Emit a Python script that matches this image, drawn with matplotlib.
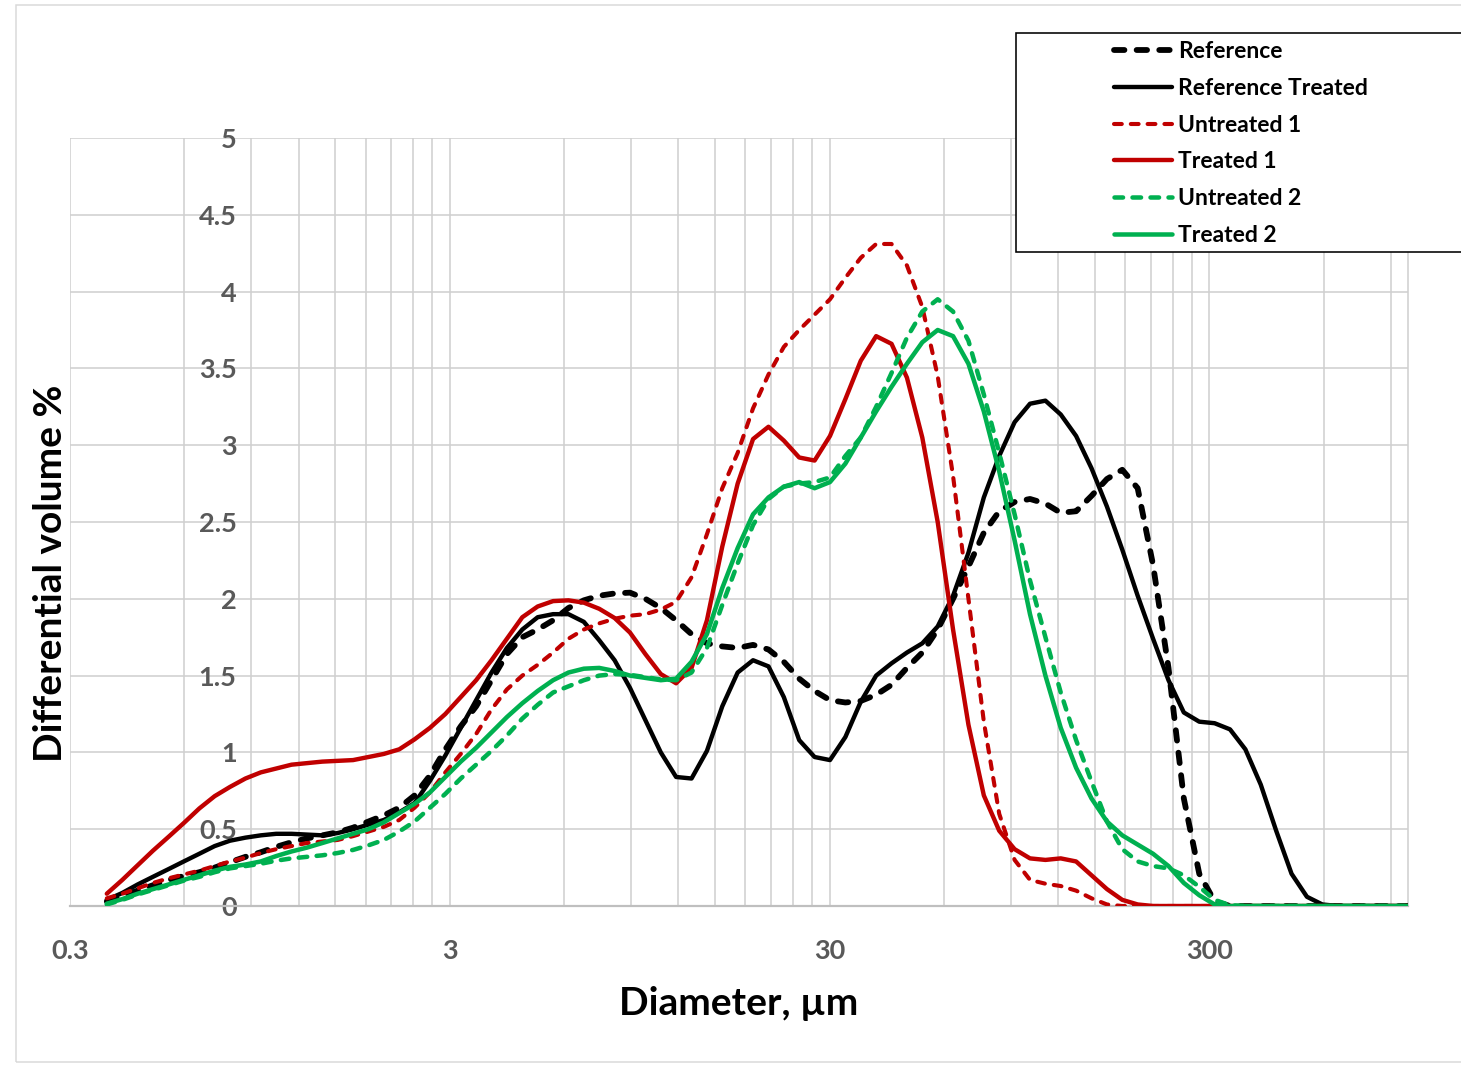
import matplotlib
matplotlib.use("Agg")
import matplotlib.pyplot as plt
from matplotlib.ticker import FixedLocator, NullFormatter
from matplotlib.patches import Rectangle

# ---------------- data ----------------
diameter_um = [0.375, 0.412, 0.452, 0.496, 0.545, 0.598, 0.657, 0.721, 0.791, 0.869,
               0.954, 1.047, 1.149, 1.261, 1.385, 1.520, 1.669, 1.832, 2.011, 2.208,
               2.423, 2.660, 2.920, 3.206, 3.519, 3.863, 4.241, 4.656, 5.111, 5.611,
               6.159, 6.761, 7.422, 8.148, 8.944, 9.819, 10.78, 11.83, 12.99, 14.26,
               15.65, 17.18, 18.86, 20.71, 22.73, 24.95, 27.39, 30.07, 33.01, 36.24,
               39.78, 43.67, 47.94, 52.62, 57.77, 63.41, 69.61, 76.42, 83.89, 92.09,
               101.1, 111.0, 121.8, 133.7, 146.8, 161.2, 176.9, 194.2, 213.2, 234.1,
               256.9, 282.1, 309.6, 339.9, 373.1, 409.6, 449.7, 493.6, 541.9, 594.9,
               653.0, 716.9, 786.9, 863.9, 948.3, 1041.0]

reference = [0.03, 0.065, 0.10, 0.135, 0.17, 0.195, 0.22, 0.25, 0.285, 0.32,
             0.35, 0.385, 0.415, 0.44, 0.46, 0.48, 0.51, 0.55, 0.59, 0.64,
             0.72, 0.85, 1.02, 1.17, 1.30, 1.47, 1.64, 1.75, 1.80, 1.86,
             1.94, 1.99, 2.02, 2.035, 2.04, 2.00, 1.94, 1.86, 1.77, 1.71,
             1.69, 1.68, 1.70, 1.67, 1.59, 1.48, 1.40, 1.34, 1.325, 1.335,
             1.375, 1.44, 1.55, 1.65, 1.80, 2.00, 2.21, 2.43, 2.57, 2.63,
             2.65, 2.62, 2.56, 2.57, 2.67, 2.78, 2.84, 2.72, 2.22, 1.55,
             0.70, 0.21, 0.03, 0, 0, 0, 0, 0, 0, 0,
             0, 0, 0, 0, 0, 0]

reference_treated = [0.04, 0.085, 0.14, 0.19, 0.24, 0.29, 0.34, 0.39, 0.425, 0.445,
                     0.46, 0.47, 0.47, 0.465, 0.46, 0.475, 0.50, 0.53, 0.56, 0.61,
                     0.67, 0.815, 0.98, 1.16, 1.34, 1.52, 1.68, 1.80, 1.88, 1.90,
                     1.90, 1.85, 1.73, 1.60, 1.42, 1.21, 1.00, 0.84, 0.83, 1.01,
                     1.30, 1.52, 1.60, 1.56, 1.36, 1.08, 0.97, 0.95, 1.10, 1.33,
                     1.50, 1.58, 1.65, 1.71, 1.82, 2.02, 2.30, 2.66, 2.93, 3.15,
                     3.27, 3.29, 3.20, 3.06, 2.85, 2.60, 2.32, 2.02, 1.74, 1.47,
                     1.26, 1.20, 1.19, 1.15, 1.02, 0.79, 0.49, 0.21, 0.06, 0.01,
                     0, 0, 0, 0, 0, 0]

untreated_1 = [0.05, 0.08, 0.115, 0.15, 0.18, 0.205, 0.23, 0.26, 0.29, 0.315,
               0.345, 0.37, 0.39, 0.41, 0.42, 0.43, 0.455, 0.485, 0.515, 0.56,
               0.64, 0.74, 0.87, 0.99, 1.12, 1.28, 1.41, 1.50, 1.57, 1.65,
               1.74, 1.80, 1.84, 1.87, 1.89, 1.90, 1.93, 1.98, 2.14, 2.42,
               2.72, 2.95, 3.24, 3.46, 3.64, 3.75, 3.85, 3.95, 4.09, 4.22,
               4.31, 4.31, 4.17, 3.90, 3.45, 2.80, 2.00, 1.20, 0.60, 0.30,
               0.17, 0.145, 0.13, 0.10, 0.05, 0.01, 0, 0, 0, 0,
               0, 0, 0, 0, 0, 0, 0, 0, 0, 0,
               0, 0, 0, 0, 0, 0]

treated_1 = [0.08, 0.17, 0.265, 0.36, 0.45, 0.54, 0.635, 0.715, 0.775, 0.83,
             0.87, 0.895, 0.92, 0.93, 0.94, 0.945, 0.95, 0.97, 0.99, 1.02,
             1.085, 1.16, 1.25, 1.36, 1.47, 1.60, 1.74, 1.88, 1.95, 1.985,
             1.99, 1.975, 1.935, 1.875, 1.78, 1.64, 1.51, 1.45, 1.55, 1.86,
             2.34, 2.75, 3.04, 3.12, 3.03, 2.92, 2.90, 3.06, 3.30, 3.55,
             3.71, 3.66, 3.44, 3.05, 2.50, 1.80, 1.18, 0.72, 0.49, 0.37,
             0.31, 0.30, 0.31, 0.29, 0.20, 0.11, 0.04, 0.01, 0, 0,
             0, 0, 0, 0, 0, 0, 0, 0, 0, 0,
             0, 0, 0, 0, 0, 0]

untreated_2 = [0.01, 0.04, 0.075, 0.105, 0.135, 0.165, 0.19, 0.22, 0.245, 0.26,
               0.275, 0.295, 0.31, 0.32, 0.33, 0.345, 0.365, 0.395, 0.43, 0.485,
               0.55, 0.64, 0.73, 0.83, 0.92, 1.01, 1.11, 1.22, 1.31, 1.39,
               1.43, 1.47, 1.50, 1.51, 1.505, 1.49, 1.475, 1.47, 1.52, 1.68,
               1.96, 2.23, 2.48, 2.65, 2.73, 2.75, 2.76, 2.79, 2.93, 3.05,
               3.25, 3.47, 3.70, 3.87, 3.95, 3.87, 3.68, 3.33, 2.95, 2.55,
               2.12, 1.75, 1.39, 1.08, 0.81, 0.55, 0.37, 0.29, 0.26, 0.245,
               0.20, 0.125, 0.04, 0.005, 0, 0, 0, 0, 0, 0,
               0, 0, 0, 0, 0, 0]

treated_2 = [0.015, 0.045, 0.08, 0.11, 0.14, 0.17, 0.20, 0.23, 0.255, 0.27,
             0.29, 0.325, 0.355, 0.38, 0.41, 0.44, 0.47, 0.50, 0.545, 0.605,
             0.665, 0.74, 0.84, 0.94, 1.03, 1.13, 1.23, 1.32, 1.40, 1.47,
             1.52, 1.545, 1.55, 1.53, 1.50, 1.485, 1.47, 1.48, 1.59, 1.77,
             2.07, 2.33, 2.55, 2.66, 2.73, 2.76, 2.72, 2.76, 2.88, 3.05,
             3.22, 3.38, 3.53, 3.67, 3.75, 3.71, 3.53, 3.22, 2.83, 2.38,
             1.90, 1.50, 1.16, 0.90, 0.70, 0.55, 0.46, 0.40, 0.34, 0.26,
             0.15, 0.07, 0.01, 0, 0, 0, 0, 0, 0, 0,
             0, 0, 0, 0, 0, 0]

series_labels = ["Reference", "Reference Treated", "Untreated 1", "Treated 1",
                 "Untreated 2", "Treated 2"]
x_tick_values = [0.3, 3, 30, 300]
x_tick_labels = ["0.3", "3", "30", "300"]
y_tick_values = [0, 0.5, 1, 1.5, 2, 2.5, 3, 3.5, 4, 4.5, 5]
y_tick_labels = ["0", "0.5", "1", "1.5", "2", "2.5", "3", "3.5", "4", "4.5", "5"]

# ---------------- figure ----------------
W, H = 1461, 1065
PX = 72.0 / 100.0  # points per pixel
plt.rcParams['font.family'] = ['Lato', 'DejaVu Sans']
plt.rcParams['font.weight'] = 'bold'

fig = plt.figure(figsize=(W / 100, H / 100), dpi=100)
ax = fig.add_axes([70 / W, 1 - 906 / H, 1338 / W, 768 / H])

RED = "#C00000"
GREEN = "#00B050"
BLACK = "#000000"

# (values, colour, line width in px, dash pattern in line widths)
series = [
    (reference, BLACK, 5.8, (1.8, 2.1)),
    (reference_treated, BLACK, 4.4, None),
    (untreated_1, RED, 4.1, (1.9, 2.2)),
    (treated_1, RED, 4.4, None),
    (untreated_2, GREEN, 4.5, (1.9, 2.1)),
    (treated_2, GREEN, 4.5, None),
]
handles = []
for (vals, col, lwpx, dash), lab in zip(series, series_labels):
    kw = dict(color=col, lw=lwpx * PX, label=lab, solid_capstyle='round',
              dash_capstyle='round', solid_joinstyle='round',
              dash_joinstyle='round', zorder=3)
    if dash is not None:
        kw['linestyle'] = (0, dash)
    ln, = ax.plot(diameter_um, vals, **kw)
    handles.append(ln)

ax.set_xscale('log')
ax.set_xlim(0.3, 1000)
ax.set_ylim(0, 5)

minor_x = []
for dec in [0.3, 3, 30, 300]:
    for k in range(2, 10):
        v = dec * k
        if v < 1000:
            minor_x.append(v)
ax.xaxis.set_major_locator(FixedLocator(x_tick_values))
ax.xaxis.set_minor_locator(FixedLocator(minor_x))
ax.set_xticklabels(x_tick_labels, fontweight='bold')
ax.xaxis.set_minor_formatter(NullFormatter())
ax.yaxis.set_major_locator(FixedLocator(y_tick_values))
ax.set_yticklabels(y_tick_labels, fontweight='bold')

ax.set_axisbelow(True)
gcol = "#d0d0d0"
ax.grid(True, which='both', axis='x', color=gcol, lw=1.6 * PX)
ax.grid(True, which='major', axis='y', color=gcol, lw=1.6 * PX)

for s in ['top', 'left']:
    ax.spines[s].set_visible(False)
ax.spines['right'].set_color(gcol)
ax.spines['right'].set_linewidth(1.6 * PX)
ax.spines['bottom'].set_color('#bfbfbf')
ax.spines['bottom'].set_linewidth(2.2 * PX)

ax.tick_params(axis='both', which='both', length=0)
ax.tick_params(axis='x', pad=23.5, labelsize=19.5, labelcolor='#595959')
ax.tick_params(axis='y', pad=10.5, labelsize=19.5, labelcolor='#595959')

# y tick labels sit at x = 0.9 (the axis crossing), inside the plot area
ax.spines['left'].set_position(('data', 0.9))

ax.set_xlabel("Diameter, µm", fontsize=28, fontweight='bold', color='black', va='center')
ax.xaxis.set_label_coords(0.5, -0.1276)
ax.set_ylabel("Differential volume %", fontsize=28, fontweight='bold', color='black',
              va='center', ha='center')
ax.yaxis.set_label_coords(-0.0149, 0.4336)

# chart border
fig.add_artist(Rectangle((16 / W, 1 - 1062 / H), (1480 - 16) / W, (1062 - 5) / H,
                         transform=fig.transFigure, fill=False, ec='#d9d9d9',
                         lw=1.5 * PX, zorder=1))
# legend box
fig.add_artist(Rectangle((1016 / W, 1 - 252 / H), (1480 - 1016) / W, (252 - 33) / H,
                         transform=fig.transFigure, fc='white', ec='black',
                         lw=1.6 * PX, zorder=4))
leg = fig.legend(handles, series_labels, loc='upper left',
                 bbox_to_anchor=(1114 / W, 1 - 41 / H), bbox_transform=fig.transFigure,
                 frameon=False, borderpad=0, borderaxespad=0,
                 handlelength=2.55, handletextpad=0.25, labelspacing=0.69,
                 prop={'family': ['Lato', 'DejaVu Sans'], 'weight': 'bold', 'size': 16.5})
leg.set_zorder(5)

fig.savefig("out.png", dpi=100)
